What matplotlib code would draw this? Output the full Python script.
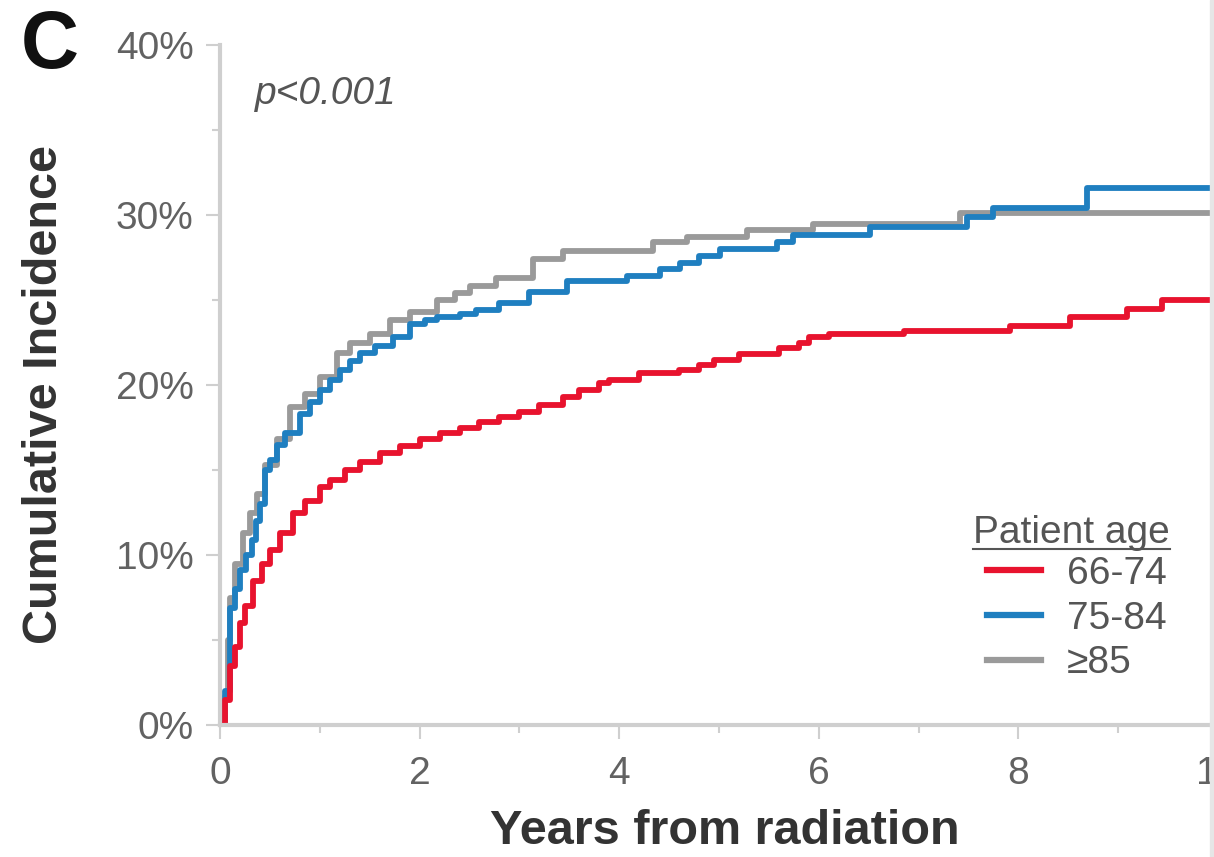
import matplotlib
matplotlib.use("Agg")
import matplotlib.pyplot as plt
from matplotlib.lines import Line2D
from matplotlib.patches import Rectangle

plt.rcParams['font.family'] = ['Liberation Sans', 'DejaVu Sans']

# ---- data (years, cumulative incidence %) ----
red_x = [0, 0.05, 0.1, 0.15, 0.2, 0.25, 0.33, 0.42, 0.5, 0.6, 0.73, 0.85, 1.0, 1.1, 1.25,
         1.4, 1.6, 1.8, 2.0, 2.2, 2.4, 2.6, 2.8, 3.0, 3.2, 3.44, 3.6, 3.8, 3.9, 4.2, 4.6,
         4.8, 4.95, 5.2, 5.6, 5.8, 5.9, 6.1, 6.85, 7.92, 8.52, 9.09, 9.44, 10]
red_y = [0, 1.5, 3.5, 4.6, 6.0, 7.0, 8.5, 9.5, 10.3, 11.3, 12.5, 13.2, 14.0, 14.4, 15.0,
         15.5, 16.0, 16.4, 16.8, 17.2, 17.5, 17.8, 18.1, 18.4, 18.8, 19.3, 19.7, 20.1, 20.3, 20.7, 20.9,
         21.2, 21.5, 21.8, 22.2, 22.5, 22.8, 23.0, 23.2, 23.5, 24.0, 24.5, 25.0, 25.0]

blue_x = [0, 0.05, 0.1, 0.15, 0.2, 0.26, 0.32, 0.36, 0.4, 0.45, 0.5, 0.57, 0.65, 0.8, 0.9,
          1.0, 1.1, 1.2, 1.3, 1.4, 1.55, 1.73, 1.9, 2.05, 2.17, 2.4, 2.57, 2.8, 3.1, 3.48,
          4.08, 4.41, 4.61, 4.8, 5.01, 5.58, 5.74, 6.51, 7.48, 7.75, 8.69, 10]
blue_y = [0, 2.0, 6.9, 8.0, 9.1, 10.0, 10.9, 12.0, 13.0, 15.0, 15.6, 16.5, 17.2, 18.3, 19.0,
          19.7, 20.3, 20.9, 21.4, 21.9, 22.3, 22.8, 23.6, 23.8, 24.0, 24.2, 24.4, 24.8, 25.5, 26.1,
          26.4, 26.8, 27.2, 27.6, 28.0, 28.4, 28.8, 29.3, 29.9, 30.4, 31.6, 31.6]

gray_x = [0, 0.03, 0.05, 0.08, 0.1, 0.15, 0.23, 0.3, 0.37, 0.45, 0.57, 0.7, 0.85, 1.0,
          1.17, 1.3, 1.5, 1.7, 1.9, 2.17, 2.35, 2.5, 2.77, 3.14, 3.44, 4.34, 4.68, 5.28,
          5.94, 7.41, 7.75, 10]
gray_y = [0, 1.6, 1.6, 5.0, 7.5, 9.5, 11.3, 12.5, 13.6, 15.3, 16.8, 18.7, 19.5, 20.5,
          21.9, 22.5, 23.0, 23.8, 24.3, 25.0, 25.4, 25.8, 26.3, 27.4, 27.9, 28.4, 28.7, 29.1,
          29.5, 30.1, 30.1, 30.1]

labels = ['66-74', '75-84', '\u226585']
colors = ['#e8132e', '#1f7fc0', '#9a9a9a']
x_ticks = [0, 2, 4, 6, 8, 10]
y_ticks = [0, 10, 20, 30, 40]
y_tick_labels = ['0%', '10%', '20%', '30%', '40%']

W, H = 1214, 857
fig = plt.figure(figsize=(W / 100, H / 100), dpi=100)
AX_L, AX_R, AX_B, AX_T = 220, 1218, 725, 45
ax = fig.add_axes([AX_L / W, 1 - AX_B / H, (AX_R - AX_L) / W, (AX_B - AX_T) / H])


def ax_frac_x(px):
    return (px - AX_L) / (AX_R - AX_L)


def ax_frac_y(py):
    return (AX_B - py) / (AX_B - AX_T)


lw = 4.2
h_gray, = ax.plot(gray_x, gray_y, drawstyle='steps-post', color=colors[2], lw=lw, label=labels[2])
h_blue, = ax.plot(blue_x, blue_y, drawstyle='steps-post', color=colors[1], lw=lw, label=labels[1])
h_red, = ax.plot(red_x, red_y, drawstyle='steps-post', color=colors[0], lw=lw, label=labels[0])

ax.set_xlim(0, 10)
ax.set_ylim(0, 40)
ax.set_xticks(x_ticks)
ax.set_xticks([1, 3, 5, 7, 9], minor=True)
ax.set_yticks(y_ticks)
ax.set_yticklabels(y_tick_labels)
ax.set_yticks([5, 15, 25, 35], minor=True)

spine_c = '#cfcfcf'
for s in ['top', 'right']:
    ax.spines[s].set_visible(False)
for s in ['left', 'bottom']:
    ax.spines[s].set_color(spine_c)
    ax.spines[s].set_linewidth(3)
ax.tick_params(which='major', length=10, width=1.5, color=spine_c, labelsize=28,
               labelcolor='#626262', pad=9)
ax.tick_params(which='minor', length=6, width=1.5, color=spine_c)
ax.tick_params(axis='x', pad=12)

ax.set_xlabel('Years from radiation', fontsize=35, fontweight='bold', color='#333333')
ax.xaxis.set_label_coords(ax_frac_x(725), ax_frac_y(831))
ax.xaxis.label.set_va('center')
ax.set_ylabel('Cumulative Incidence', fontsize=35, fontweight='bold', color='#333333')
ax.yaxis.set_label_coords(ax_frac_x(45), ax_frac_y(395))
ax.yaxis.label.set_va('center')

ax.text(0.35, 37.1, 'p<0.001', fontsize=28, style='italic', color='#555555', va='center', ha='left')
fig.text(50 / W, 1 - 47 / H, 'C', fontsize=58, fontweight='bold', color='#111111', ha='center', va='center')

# legend title (underlined) and entries
title = ax.text(ax_frac_x(973), ax_frac_y(533), 'Patient age', transform=ax.transAxes,
                fontsize=28, color='#555555', ha='left', va='center')
leg = ax.legend(handles=[h_red, h_blue, h_gray], labels=labels,
                loc='upper left', bbox_to_anchor=(ax_frac_x(987), ax_frac_y(556)),
                frameon=False, fontsize=28, handlelength=1.4,
                handletextpad=0.65, labelspacing=0.22, borderaxespad=0, borderpad=0)
for t in leg.get_texts():
    t.set_color('#555555')
for lh in leg.legend_handles:
    lh.set_linewidth(4.5)

fig.canvas.draw()
bb = title.get_window_extent()
inv = fig.transFigure.inverted()
(x0, y0), (x1, _) = inv.transform([(bb.x0, bb.y0 + 2), (bb.x1, bb.y0 + 2)])
fig.add_artist(Line2D([x0, x1], [y0, y0], transform=fig.transFigure, color='#555555', lw=1.5))

# light gray strip on the right edge
fig.add_artist(Rectangle((1210 / W, 0), 4 / W, 1, transform=fig.transFigure,
                         color='#e6e6e6', zorder=10))

fig.savefig('out.png', dpi=100)
